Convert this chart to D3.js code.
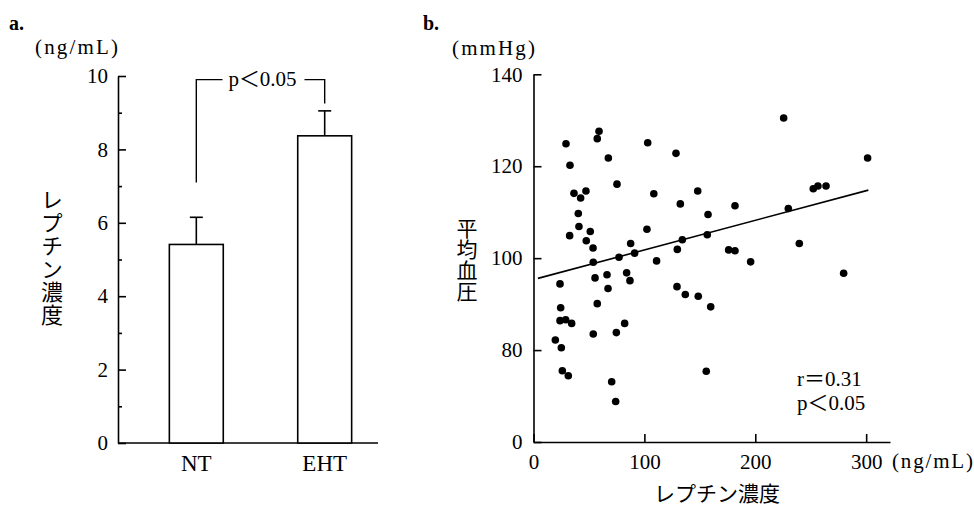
<!DOCTYPE html>
<html><head><meta charset="utf-8">
<script src="https://cdn.jsdelivr.net/npm/d3@7"></script>
<style>
html,body{margin:0;padding:0;background:#fff;}
svg{display:block;}
text{fill:#000;}
.serif{font-family:"Liberation Serif","Noto Sans CJK JP",serif;}
.jp{font-family:"Noto Sans CJK JP",sans-serif;}
</style></head>
<body>
<svg id="chart" width="974" height="506"></svg>
<script>
// ---------- Panel a: bar chart ----------
const barCategories = ["NT", "EHT"];
const barMeans = [5.41, 8.37];
const barErrors = [0.74, 0.68];
const barMajorTicks = [0, 2, 4, 6, 8, 10];
const barMinorTicks = [1, 3, 5, 7, 9];
// significance bracket (in data units): top, left leg end, right leg end
const bracketLevels = [9.9, 7.1, 9.25];
const bracketLabel = "p＜0.05";

// ---------- Panel b: scatter ----------
const scatterX = [29.3,59.1,57.5,103,32.9,67.5,75.3,108.5,36.5,47.3,42.5,40.4,41.0,32.6,51.2,47.6,53.7,102.3,87.6,91.2,77.1,53.9,111,
  23.9,55.5,66.3,84,87,67.2,24.5,57.5,23.9,29,34.4,53.9,74.7,82.2,19.7,25.1,26,31.4,70.5,74.1,
  128.5,148.1,132.4,181.7,157.4,134.2,156.7,129.7,176,181.7,195.8,129.4,136.9,148.6,159.8,155.8,
  225.6,301.3,252.3,256.5,263.8,229.8,239.7,279.7];
const scatterY = [124.9,127.6,126.0,125.1,120.2,121.8,116.1,114.0,114.1,114.6,113.1,109.7,106.9,104.9,105.8,103.8,102.2,106.3,103.2,101.1,100.2,99.1,99.4,
  94.4,95.7,96.4,96.8,95.1,93.4,89.2,90.1,86.4,86.6,85.8,83.5,83.8,85.8,82.2,80.5,75.5,74.4,73.1,68.8,
  122.8,114.6,111.8,111.4,109.5,104.0,105.1,101.9,101.8,101.6,99.2,93.8,92.1,91.7,89.4,75.4,
  130.5,121.8,115.1,115.7,115.7,110.8,103.2,96.7];
const regressionX = [4, 302];
const regressionY = [95.6, 114.8];
const scatterYTicks = [60, 80, 100, 120, 140];
const scatterYTickLabels = ["0", "80", "100", "120", "140"];
const scatterXTicks = [0, 100, 200, 300];
const statsText = ["r＝0.31", "p＜0.05"];

const svg = d3.select("#chart");

// ===== Panel a =====
const ya = d3.scaleLinear().domain([0, 10]).range([443, 76]);
const xa = d3.scaleBand().domain(barCategories).range([118, 403]).paddingInner(0.58).paddingOuter(0.4);
const ga = svg.append("g");

// y axis (major, inward ticks)
ga.append("g").attr("transform", "translate(118,0)")
  .call(d3.axisLeft(ya).tickValues(barMajorTicks).tickSize(-8).tickSizeOuter(0).tickPadding(10).tickFormat(d3.format("d")));
// minor ticks
ga.append("g").attr("transform", "translate(118,0)")
  .call(d3.axisLeft(ya).tickValues(barMinorTicks).tickSize(-4).tickFormat(""))
  .call(g => g.select(".domain").remove());

// x axis
const xAxisA = ga.append("g").attr("class", "catAxis").attr("transform", `translate(0,${ya(0)})`)
  .call(d3.axisBottom(xa).tickSize(0).tickPadding(12));
xAxisA.select(".domain").remove();
ga.append("line").attr("x1", 118).attr("x2", 378).attr("y1", ya(0)).attr("y2", ya(0))
  .attr("stroke", "#000").attr("stroke-width", 1.6);

// bars
ga.selectAll("rect.bar").data(barCategories).join("rect")
  .attr("class", "bar")
  .attr("x", d => xa(d)).attr("width", xa.bandwidth())
  .attr("y", (d, i) => ya(barMeans[i])).attr("height", (d, i) => ya(0) - ya(barMeans[i]))
  .attr("fill", "#fff").attr("stroke", "#000").attr("stroke-width", 1.6);

// error bars (upper only)
const cx = d => xa(d) + xa.bandwidth() / 2;
ga.selectAll("line.err").data(barCategories).join("line")
  .attr("class", "err")
  .attr("x1", cx).attr("x2", cx)
  .attr("y1", (d, i) => ya(barMeans[i])).attr("y2", (d, i) => ya(barMeans[i] + barErrors[i]))
  .attr("stroke", "#000").attr("stroke-width", 1.6);
ga.selectAll("line.cap").data(barCategories).join("line")
  .attr("class", "cap")
  .attr("x1", d => cx(d) - 6.5).attr("x2", d => cx(d) + 6.5)
  .attr("y1", (d, i) => ya(barMeans[i] + barErrors[i])).attr("y2", (d, i) => ya(barMeans[i] + barErrors[i]))
  .attr("stroke", "#000").attr("stroke-width", 1.6);

// bracket
const bx1 = cx(barCategories[0]), bx2 = cx(barCategories[1]);
const bTop = ya(bracketLevels[0]);
const labelMid = (bx1 + bx2) / 2 + 2;
const gapHalf = 40;
ga.append("path")
  .attr("d", `M${bx1},${ya(bracketLevels[1])}V${bTop}H${labelMid - gapHalf}`)
  .attr("fill", "none").attr("stroke", "#000").attr("stroke-width", 1.4);
ga.append("path")
  .attr("d", `M${labelMid + gapHalf + 2},${bTop}H${bx2}V${ya(bracketLevels[2])}`)
  .attr("fill", "none").attr("stroke", "#000").attr("stroke-width", 1.4);
ga.append("text").attr("class", "serif").attr("x", labelMid).attr("y", bTop + 6)
  .attr("text-anchor", "middle").attr("font-size", 21).text(bracketLabel);

// labels panel a
svg.append("text").attr("class", "serif").attr("x", 9).attr("y", 30)
  .attr("font-size", 20).attr("font-weight", "bold").text("a.");
svg.append("text").attr("class", "serif").attr("x", 35).attr("y", 54)
  .attr("font-size", 21).attr("textLength", 83).attr("lengthAdjust", "spacing").text("(ng/mL)");
svg.append("text").attr("class", "jp").attr("x", 52).attr("y", 258)
  .attr("font-size", 22).attr("text-anchor", "middle")
  .style("writing-mode", "vertical-rl").style("text-orientation", "upright")
  .attr("letter-spacing", 1).text("レプチン濃度");

// ===== Panel b =====
const xb = d3.scaleLinear().domain([0, 321.5]).range([533.5, 890]);
const yb = d3.scaleLinear().domain([60, 140]).range([442, 74.3]);
const gb = svg.append("g");

gb.append("g").attr("transform", `translate(${xb(0)},0)`)
  .call(d3.axisLeft(yb).tickValues(scatterYTicks).tickSize(-8).tickSizeOuter(0).tickPadding(11)
    .tickFormat((d, i) => scatterYTickLabels[i]));
gb.append("g").attr("transform", `translate(0,${yb(60)})`)
  .call(d3.axisBottom(xb).tickValues(scatterXTicks).tickSize(-8).tickSizeOuter(0).tickPadding(12)
    .tickFormat(d3.format("d")));

// regression line
gb.append("line")
  .attr("x1", xb(regressionX[0])).attr("y1", yb(regressionY[0]))
  .attr("x2", xb(regressionX[1])).attr("y2", yb(regressionY[1]))
  .attr("stroke", "#000").attr("stroke-width", 1.6);

// points
gb.selectAll("circle").data(scatterX).join("circle")
  .attr("cx", d => xb(d)).attr("cy", (d, i) => yb(scatterY[i]))
  .attr("r", 3.8).attr("fill", "#000");

// stats text
gb.selectAll("text.stat").data(statsText).join("text")
  .attr("class", "stat serif").attr("x", 797).attr("y", (d, i) => 386 + i * 24)
  .attr("font-size", 21).text(d => d);

// labels panel b
svg.append("text").attr("class", "serif").attr("x", 423).attr("y", 30)
  .attr("font-size", 20).attr("font-weight", "bold").text("b.");
svg.append("text").attr("class", "serif").attr("x", 452).attr("y", 55)
  .attr("font-size", 21).attr("textLength", 83).attr("lengthAdjust", "spacing").text("(mmHg)");
svg.append("text").attr("class", "serif").attr("x", 892).attr("y", 468)
  .attr("font-size", 21).attr("textLength", 81).attr("lengthAdjust", "spacing").text("(ng/mL)");
svg.append("text").attr("class", "jp").attr("x", 467).attr("y", 260)
  .attr("font-size", 21).attr("text-anchor", "middle")
  .style("writing-mode", "vertical-rl").style("text-orientation", "upright")
  .text("平均血圧");
svg.append("text").attr("class", "jp").attr("x", 717).attr("y", 501)
  .attr("font-size", 21).attr("text-anchor", "middle").text("レプチン濃度");

// axis styling
svg.selectAll(".domain, .tick line").attr("stroke", "#000").attr("stroke-width", 1.6);
svg.selectAll(".tick text").attr("font-family", "Liberation Serif, serif").attr("font-size", 21).attr("fill", "#000");
svg.selectAll(".catAxis .tick text").attr("font-size", 23);
</script>
</body></html>
